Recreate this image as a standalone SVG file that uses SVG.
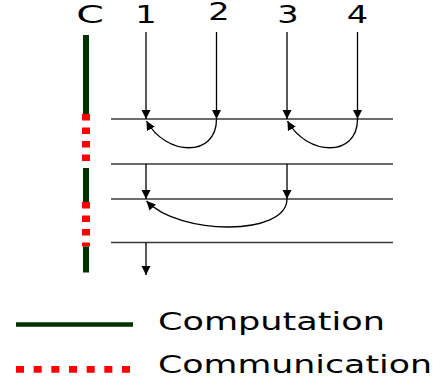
<svg xmlns="http://www.w3.org/2000/svg" width="440" height="386" viewBox="0 0 440 386">
<style>
.lbl{font-family:"DejaVu Sans","Liberation Sans",sans-serif;font-size:24px;fill:#000}
.leg{font-family:"DejaVu Sans","Liberation Sans",sans-serif;font-size:25px;fill:#000}
.step{stroke:#3a3a3a;stroke-width:1.6;fill:none}
.arr{stroke:#000;stroke-width:1.3;fill:none;marker-end:url(#ah)}
.comp{stroke:#003300;stroke-width:6;fill:none}
.comm{stroke:#ff0000;stroke-width:8;fill:none;stroke-dasharray:6.5 7}
</style>
<defs>
<marker id="ah" markerUnits="userSpaceOnUse" markerWidth="10" markerHeight="10" refX="9" refY="4.5" orient="auto" viewBox="0 0 10 10">
<path d="M0,0 L9,4.5 L0,9 z" fill="#000"/>
</marker>
</defs>
<g id="labels">
<text class="lbl" text-anchor="middle" transform="translate(90,22.7) scale(1.65,1)">C</text>
<text class="lbl" text-anchor="middle" transform="translate(146,22.7) scale(1.4,1)">1</text>
<text class="lbl" text-anchor="middle" transform="translate(219,20) scale(1.4,1)">2</text>
<text class="lbl" text-anchor="middle" transform="translate(288,22.7) scale(1.4,1)">3</text>
<text class="lbl" text-anchor="middle" transform="translate(357.5,22.7) scale(1.4,1)">4</text>
</g>
<g id="timeline">
<line class="comp" x1="86" y1="35" x2="86" y2="114"/>
<line class="comm" x1="86" y1="114" x2="86" y2="161"/>
<line class="comp" x1="86" y1="168" x2="86" y2="202"/>
<line class="comm" x1="86" y1="202" x2="86" y2="246.5"/>
<line class="comp" x1="86" y1="246.5" x2="86" y2="272.5"/>
</g>
<g id="steps">
<line class="step" x1="111" y1="119" x2="393" y2="119"/>
<line class="step" x1="111" y1="164" x2="393" y2="164"/>
<line class="step" x1="111" y1="199" x2="393" y2="199"/>
<line class="step" x1="111" y1="242.5" x2="393" y2="242.5"/>
</g>
<g id="connectors">
<line class="arr" x1="146" y1="32" x2="146" y2="119"/>
<line class="arr" x1="216.5" y1="32" x2="216.5" y2="119"/>
<line class="arr" x1="287" y1="32" x2="287" y2="119"/>
<line class="arr" x1="357.5" y1="32" x2="357.5" y2="119"/>
<path class="arr" d="M216.5,119 C216.5,158 166,156 146.5,121"/>
<path class="arr" d="M357.5,119 C357.5,158 307,156 287.5,121"/>
<line class="arr" x1="146" y1="164" x2="146" y2="199"/>
<line class="arr" x1="287" y1="164" x2="287" y2="199"/>
<path class="arr" d="M287,199 C287,236 180,236 146.5,201"/>
<line class="arr" x1="146" y1="242.5" x2="146" y2="275"/>
</g>
<g id="legend">
<line x1="16" y1="324.5" x2="133" y2="324.5" stroke="#003300" stroke-width="4.3"/>
<line x1="16" y1="369.3" x2="130" y2="369.3" stroke="#ff0000" stroke-width="6.7" stroke-dasharray="8 9.67"/>
<text class="leg" x="158" y="330" textLength="227" lengthAdjust="spacingAndGlyphs">Computation</text>
<text class="leg" x="158" y="373.3" textLength="274" lengthAdjust="spacingAndGlyphs">Communication</text>
</g>
</svg>
